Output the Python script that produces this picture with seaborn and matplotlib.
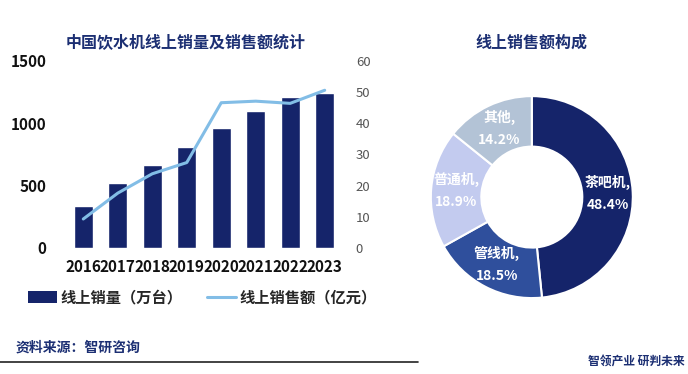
import matplotlib
matplotlib.use("Agg")
import matplotlib.pyplot as plt
import seaborn as sns
import pandas as pd
import numpy as np
from matplotlib.lines import Line2D
from matplotlib.patches import Patch

# data
years = ["2016", "2017", "2018", "2019", "2020", "2021", "2022", "2023"]
sales_volume = [339, 520, 664, 813, 963, 1096, 1208, 1245]      # 万台
sales_amount = [9.3, 17.6, 23.8, 27.4, 46.6, 47.1, 46.4, 50.6]   # 亿元

pie_labels = ["茶吧机", "管线机", "普通机", "其他"]
pie_values = [48.4, 18.5, 18.9, 14.2]
pie_colors = ["#15246a", "#2f4f9c", "#c3cbef", "#b3c3d6"]

sns.set_theme(style="white")
plt.rcParams["font.family"] = ["Noto Sans CJK SC", "DejaVu Sans"]

NAVY = "#15246a"
LIGHT = "#82bde6"

fig = plt.figure(figsize=(6.88, 3.74), dpi=100)
fig.patch.set_facecolor("white")

# left: bars + line
ax = fig.add_axes([0.096, 0.337, 0.401, 0.50])
df = pd.DataFrame({"year": years, "volume": sales_volume, "amount": sales_amount})
sns.barplot(data=df, x="year", y="volume", color=NAVY, width=0.56,
            saturation=1, ax=ax)
ax.set_ylim(0, 1500)
ax.set_yticks([0, 500, 1000, 1500])
ax.set_xlabel("")
ax.set_ylabel("")
for s in ax.spines.values():
    s.set_visible(False)
ax.tick_params(axis="y", length=0, pad=14, labelsize=11)
ax.tick_params(axis="x", length=0, pad=8, labelsize=11)
for lab in ax.get_yticklabels() + ax.get_xticklabels():
    lab.set_fontweight("bold")
    lab.set_color("#111111")

ax2 = ax.twinx()
sns.lineplot(data=df, x="year", y="amount", color=LIGHT, linewidth=2.2,
             ax=ax2, legend=False)
ax2.set_ylim(0, 60)
ax2.set_yticks(range(0, 61, 10))
ax2.set_ylabel("")
for s in ax2.spines.values():
    s.set_visible(False)
ax2.tick_params(axis="y", length=0, pad=10, labelsize=9.5, labelcolor="#555555")
ax.set_xlim(-0.5, 7.5)

fig.text(0.27, 0.885, "中国饮水机线上销量及销售额统计", ha="center", va="center",
         fontsize=11.5, fontweight="bold", color="#1c2f73")

handles = [Patch(facecolor=NAVY, edgecolor="none"),
           Line2D([0], [0], color=LIGHT, linewidth=2.2)]
fig.legend(handles, ["线上销量（万台）", "线上销售额（亿元）"],
           loc="center left", bbox_to_anchor=(0.028, 0.205), ncol=2,
           frameon=False, handlelength=1.9, handleheight=0.9,
           columnspacing=1.6, handletextpad=0.2, borderpad=0.1,
           prop={"family": ["Noto Sans CJK SC"], "weight": "bold", "size": 11})

# right: donut
axp = fig.add_axes([0.626, 0.203, 0.294, 0.54])
wedges, _ = axp.pie(pie_values, colors=pie_colors, startangle=90,
                    counterclock=False, radius=1.0,
                    wedgeprops=dict(width=0.5, edgecolor="white", linewidth=1.5))
for w, lab, v in zip(wedges, pie_labels, pie_values):
    ang = np.deg2rad((w.theta1 + w.theta2) / 2)
    r = 0.75
    axp.text(r * np.cos(ang), r * np.sin(ang), f"{lab},\n{v}%",
             ha="center", va="center", color="white", fontsize=10,
             fontweight="bold", linespacing=1.7)
axp.set_xlim(-1.0, 1.0)
axp.set_ylim(-1.0, 1.0)
axp.set_aspect("equal")

fig.text(0.772, 0.885, "线上销售额构成", ha="center", va="center",
         fontsize=11.5, fontweight="bold", color="#1c2f73")

# footer
fig.text(0.022, 0.07, "资料来源：智研咨询", ha="left", va="center",
         fontsize=10, fontweight="bold", color="#1c2f73")
fig.add_artist(Line2D([0.0, 0.607], [0.032, 0.032], color="#222222",
                      linewidth=1.2, transform=fig.transFigure))
fig.text(0.995, 0.032, "智领产业 研判未来", ha="right", va="center",
         fontsize=8.5, fontweight="bold", color="#1c2f73")

fig.savefig("out.png", dpi=100, facecolor="white")
